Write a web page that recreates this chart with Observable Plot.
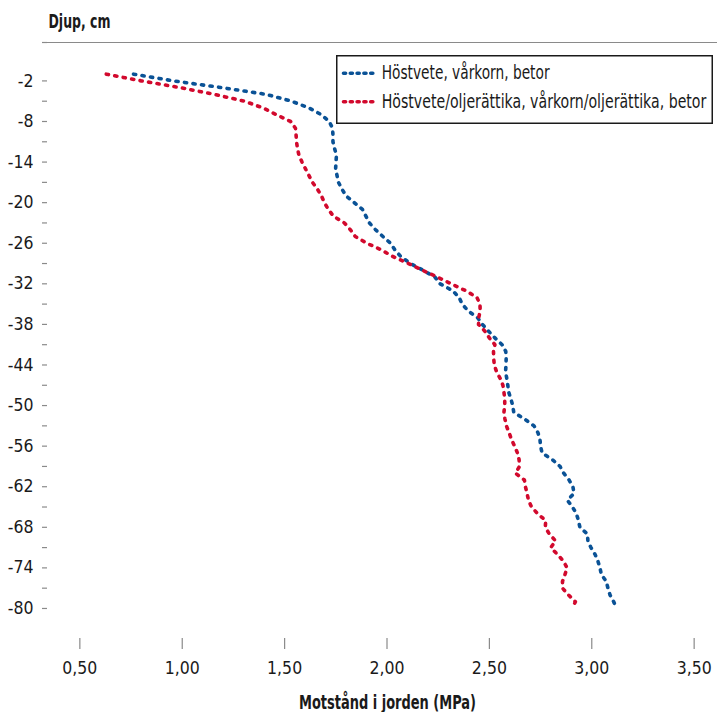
<!DOCTYPE html>
<html><head><meta charset="utf-8">
<script src="https://cdn.jsdelivr.net/npm/d3@7"></script>
<script src="https://cdn.jsdelivr.net/npm/@observablehq/plot@0.6"></script>
<style>
body{margin:0;background:#fff;}
#wrap{position:relative;width:717px;height:712px;overflow:hidden;}
#legend{position:absolute;left:336px;top:55px;}
</style></head>
<body><div id="wrap"></div>
<script>
const FONT = '"Liberation Sans Narrow","Arial Narrow","DejaVu Sans Condensed",sans-serif';

// Depth (cm)
const depths = [-1,-2,-3,-4,-5,-6,-7,-8,-9,-10,-11,-12,-13,-14,-15,-16,-17,-18,-19,-20,
-21,-22,-23,-24,-25,-26,-27,-28,-29,-30,-31,-32,-33,-34,-35,-36,-37,-38,-39,-40,
-41,-42,-43,-44,-45,-46,-47,-48,-49,-50,-51,-52,-53,-54,-55,-56,-57,-58,-59,-60,
-61,-62,-63,-64,-65,-66,-67,-68,-69,-70,-71,-72,-73,-74,-75,-76,-77,-78,-79,-80];

// Höstvete, vårkorn, betor (MPa)
const blueValues = [0.762,0.958,1.195,1.412,1.534,1.619,1.680,1.718,1.734,1.736,
1.736,1.744,1.753,1.751,1.749,1.756,1.763,1.780,1.800,1.840,
1.880,1.897,1.914,1.944,1.980,2.017,2.039,2.068,2.115,2.176,
2.234,2.259,2.320,2.352,2.367,2.396,2.442,2.466,2.496,2.527,
2.562,2.580,2.582,2.581,2.579,2.585,2.590,2.594,2.605,2.614,
2.619,2.672,2.718,2.737,2.747,2.750,2.757,2.808,2.845,2.863,
2.889,2.908,2.913,2.881,2.906,2.925,2.935,2.942,2.979,2.981,
2.996,3.016,3.030,3.040,3.047,3.071,3.079,3.089,3.107,3.121];

// Höstvete/oljerättika, vårkorn/oljerättika, betor (MPa)
const redValues = [0.629,0.801,0.992,1.158,1.304,1.395,1.460,1.529,1.553,1.556,
1.558,1.563,1.570,1.585,1.602,1.619,1.636,1.660,1.680,1.694,
1.714,1.738,1.792,1.821,1.845,1.902,1.973,2.031,2.105,2.173,
2.246,2.314,2.383,2.439,2.454,2.455,2.448,2.447,2.478,2.500,
2.527,2.520,2.521,2.524,2.535,2.553,2.566,2.571,2.575,2.575,
2.571,2.576,2.583,2.596,2.608,2.623,2.637,2.645,2.647,2.627,
2.671,2.676,2.684,2.691,2.706,2.736,2.775,2.773,2.793,2.823,
2.800,2.832,2.862,2.879,2.869,2.857,2.857,2.886,2.920,2.904];

const seriesNames = ["Höstvete, vårkorn, betor", "Höstvete/oljerättika, vårkorn/oljerättika, betor"];
const seriesColors = ["#0a5296", "#d2092d"];
const seriesValues = [blueValues, redValues];

const xTicks = [0.5, 1.0, 1.5, 2.0, 2.5, 3.0, 3.5];
const yTicks = [-2,-5,-8,-11,-14,-17,-20,-23,-26,-29,-32,-35,-38,-41,-44,-47,-50,-53,-56,-59,-62,-65,-68,-71,-74,-77,-80];
const yLabels = [-2,-8,-14,-20,-26,-32,-38,-44,-50,-56,-62,-68,-74,-80];
const xDomain = [0.342, 3.614];
const yDomain = [-84.44, 3.68];

const yTitle = "Djup, cm";
const xTitle = "Motstånd i jorden (MPa)";

const AXIS = "#8a8a8a";
const TEXT = "#1a1a1a";
const DASH = "2.2,6.4";

const lineMarks = seriesValues.map((vals, si) =>
  Plot.line(depths.map((d, i) => ({d, v: vals[i]})), {
    x: "v", y: "d", stroke: seriesColors[si], strokeWidth: 3.6,
    strokeDasharray: DASH, strokeLinecap: "round", strokeLinejoin: "round", curve: "linear"
  })
);

const chart = Plot.plot({
  width: 717, height: 712,
  marginLeft: 47, marginRight: 0, marginTop: 42, marginBottom: 74,
  style: {fontFamily: FONT, fontSize: "17.5px", background: "#fff", color: TEXT, overflow: "visible"},
  x: {domain: xDomain},
  y: {domain: yDomain},
  marks: [
    Plot.frame({anchor: "top", stroke: AXIS, strokeWidth: 1.2}),
    Plot.axisY(yTicks.concat([yDomain[1]]), {
      tickSize: 5, tickPadding: 9, stroke: AXIS, strokeWidth: 1.2, fill: TEXT, fontSize: 17.5,
      line: true, label: null, tickFormat: d => yLabels.includes(d) ? String(d) : ""
    }),
    Plot.axisX(xTicks, {
      tickSize: 11, tickPadding: 12, stroke: AXIS, strokeWidth: 1.2, fill: TEXT, fontSize: 17.5,
      line: true, label: null, tickFormat: d => d.toFixed(2).replace(".", ",")
    }),
    ...lineMarks,
    Plot.text([yTitle], {frameAnchor: "top-left", text: d => d, textAnchor: "start", lineAnchor: "bottom",
      dx: 1, dy: -15, fontSize: 20, fontWeight: "bold", fill: TEXT}),
    Plot.text([xTitle], {frameAnchor: "bottom", text: d => d, textAnchor: "middle", lineAnchor: "bottom",
      dx: 5, dy: 70, fontSize: 20, fontWeight: "bold", fill: TEXT})
  ]
});

// condense the two titles to the reference's narrow font widths
const titleWidths = new Map([[yTitle, 62], [xTitle, 177]]);
d3.select(chart).selectAll("text").each(function() {
  const w = titleWidths.get(this.textContent);
  if (w) d3.select(this).attr("textLength", w).attr("lengthAdjust", "spacingAndGlyphs");
});

const wrap = document.getElementById("wrap");
wrap.appendChild(chart);

// Legend (inside the plot area, top right)
const legendTextWidths = [168, 325];
const lg = d3.select(wrap).append("svg").attr("id", "legend")
  .attr("width", 378).attr("height", 70);
lg.append("rect").attr("x", 0.75).attr("y", 0.75).attr("width", 375.5).attr("height", 67.5)
  .attr("fill", "#fff").attr("stroke", "#1a1a1a").attr("stroke-width", 1.5);
const sampleY = [18.3, 46.7];
const textY = [23.6, 53.4];
seriesNames.forEach((name, i) => {
  lg.append("line").attr("x1", 7.5).attr("x2", 41).attr("y1", sampleY[i]).attr("y2", sampleY[i])
    .attr("stroke", seriesColors[i]).attr("stroke-width", 3.6)
    .attr("stroke-dasharray", "2.1,4.7").attr("stroke-linecap", "round");
  const t = lg.append("text").attr("x", 0).attr("y", 0)
    .attr("font-family", FONT).attr("font-size", 20).attr("fill", TEXT)
    .text(name);
  const natural = t.node().getComputedTextLength() || legendTextWidths[i];
  const k = legendTextWidths[i] / natural;
  t.attr("transform", `translate(45.7,${textY[i]}) scale(${k},1)`);
});
</script>
</body></html>
